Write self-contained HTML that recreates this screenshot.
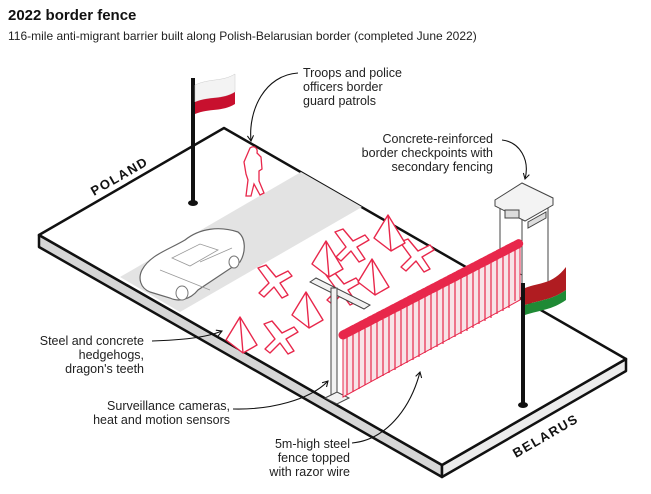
<!DOCTYPE html>
<html><head><meta charset="utf-8"><style>
body{margin:0;background:#fff;width:651px;height:489px;overflow:hidden;font-family:"Liberation Sans",sans-serif}
</style></head><body>
<svg width="651" height="489" viewBox="0 0 651 489" xmlns="http://www.w3.org/2000/svg" font-family="Liberation Sans, sans-serif">
<defs>
<marker id="ah" viewBox="0 0 10 10" refX="8" refY="5" markerWidth="7" markerHeight="7" orient="auto"><path d="M1,1 L8,5 L1,9" fill="none" stroke="#111" stroke-width="1.4"/></marker>
</defs>
<text x="8" y="20" font-size="15" font-weight="bold" fill="#111">2022 border fence</text>
<text x="8" y="40" font-size="12" fill="#222">116-mile anti-migrant barrier built along Polish-Belarusian border (completed June 2022)</text>

<!-- slab -->
<polygon points="39,235 442,465 442,477 39,247" fill="#d6d6d6" stroke="#111" stroke-width="2.5" stroke-linejoin="round"/>
<polygon points="442,465 626,359 626,371 442,477" fill="#ececec" stroke="#111" stroke-width="2.5" stroke-linejoin="round"/>
<polygon points="224,128 626,359 442,465 39,235" fill="#fff" stroke="#111" stroke-width="2.5" stroke-linejoin="round"/>
<polygon points="120,277 301,172 362,207 180,312" fill="#e3e3e3"/>

<text x="0" y="0" font-size="13" font-weight="bold" letter-spacing="1.5" fill="#111" transform="translate(94,196) rotate(-30)">POLAND</text>
<text x="0" y="0" font-size="13" font-weight="bold" letter-spacing="1.5" fill="#111" transform="translate(516,458) rotate(-30)">BELARUS</text>

<!-- Poland flag -->
<rect x="191" y="78" width="4" height="125" fill="#111"/>
<ellipse cx="193" cy="203" rx="5" ry="3" fill="#111"/>
<path d="M195,85 C210,78 222,82 235,74 L235,92 C222,100 210,96 195,102 Z" fill="#f3f3f3" stroke="#ccc" stroke-width="0.5"/>
<path d="M195,102 C210,96 222,100 235,92 L235,104 C222,112 210,108 195,114 Z" fill="#c8102e"/>

<!-- soldier -->
<path d="M250,148 c4,-3 8,0 7,5 l4,4 l1,12 l-3,2 l0,10 l5,12 l-4,2 l-6,-11 l-3,12 l-5,0 l2,-16 l-2,-6 l-2,-12 z" fill="#fff" stroke="#e8274b" stroke-width="1.3"/>

<!-- car -->
<path d="M142,270 C150,255 168,250 185,240 C200,228 220,226 238,232 C246,238 246,252 240,262 L198,290 C190,300 178,302 170,298 L150,292 C140,288 138,278 142,270 Z" fill="#fff" stroke="#666" stroke-width="1.2"/>
<path d="M172,258 L200,244 L218,250 L190,266 Z M160,270 L210,290 M200,262 L232,248" fill="none" stroke="#999" stroke-width="0.8"/>
<ellipse cx="182" cy="293" rx="6" ry="7" fill="#fff" stroke="#777"/>
<ellipse cx="234" cy="262" rx="5" ry="6" fill="#fff" stroke="#777"/>

<!-- hedgehogs & teeth -->
<g fill="#fff" stroke="#e8274b" stroke-width="1.4" stroke-linejoin="round">
<path d="M258,268 l8,-3 l10,12 l12,-6 l4,5 l-12,7 l8,12 l-6,3 l-8,-11 l-10,10 l-5,-4 l10,-10 z"/>
<path d="M264,324 l8,-3 l10,12 l12,-6 l4,5 l-12,7 l8,12 l-6,3 l-8,-11 l-10,10 l-5,-4 l10,-10 z"/>
<path d="M335,232 l8,-3 l10,12 l12,-6 l4,5 l-12,7 l8,12 l-6,3 l-8,-11 l-10,10 l-5,-4 l10,-10 z"/>
<path d="M400,242 l8,-3 l10,12 l12,-6 l4,5 l-12,7 l8,12 l-6,3 l-8,-11 l-10,10 l-5,-4 l10,-10 z"/>
<path d="M326,275 l8,-3 l10,12 l12,-6 l4,5 l-12,7 l8,12 l-6,3 l-8,-11 l-10,10 l-5,-4 l10,-10 z"/>
<path d="M226,340 l14,-23 l17,28 l-14,8 z M240,317 l3,36"/>
<path d="M292,315 l14,-23 l17,28 l-14,8 z M306,292 l3,36"/>
<path d="M374,238 l14,-23 l17,28 l-14,8 z M388,215 l3,36"/>
<path d="M358,282 l14,-23 l17,28 l-14,8 z M372,259 l3,36"/>
<path d="M312,264 l14,-23 l17,28 l-14,8 z M326,241 l3,36"/>
</g>

<!-- checkpoint tower -->
<g stroke="#444" stroke-width="1" fill="#fff">
<polygon points="500,200 500,262 522,275 522,213"/>
<polygon points="522,213 522,300 548,285 548,200"/>
<polygon points="495,200 522,183 553,198 553,205 525,221 495,206" fill="#f3f3f3"/>
<rect x="505" y="210" width="14" height="8" fill="#ddd"/>
<polygon points="528,222 546,212 546,218 528,228" fill="#ddd"/>
</g>

<!-- camera post -->
<g stroke="#444" stroke-width="1" fill="#f2f2f2">
<polygon points="310,282 316,278 370,305 364,309"/>
<rect x="331" y="288" width="6" height="110"/>
<polygon points="325,398 337,392 349,398 337,404"/>
</g>

<!-- fence -->
<polygon points="343,335 520,243 520,300 343,397" fill="#f7e3e7" stroke="#e8274b" stroke-width="1"/>
<g stroke="#e8274b" stroke-width="1.2">
<path d="M347,333 v62 M353,330 v62 M359,327 v62 M365,323 v62 M371,320 v62 M377,317 v62 M383,314 v62 M389,311 v62 M395,308 v62 M401,304 v62 M407,301 v62 M413,298 v62 M419,295 v62 M425,291 v62 M431,288 v62 M437,285 v62 M443,282 v62 M449,278 v62 M455,275 v62 M461,272 v62 M467,269 v62 M473,266 v62 M479,262 v62 M485,259 v62 M491,256 v62 M497,252 v62 M503,249 v62 M509,246 v62 M515,243 v58"/>
</g>
<path d="M343,335 L520,243" stroke="#e8274b" stroke-width="9" fill="none" stroke-dasharray="3 2" stroke-linecap="round"/>

<!-- Belarus flag -->
<rect x="521" y="283" width="4" height="122" fill="#111"/>
<ellipse cx="523" cy="405" rx="5" ry="3" fill="#111"/>
<path d="M525,288 C540,282 552,285 566,267 L566,290 C552,300 540,300 525,305 Z" fill="#b01c21"/>
<path d="M525,305 C540,300 552,300 566,290 L566,300 C552,310 540,310 525,315 Z" fill="#1f8a35"/>

<!-- labels -->
<g font-size="12.5" fill="#222">
<text x="303" y="77">Troops and police</text>
<text x="303" y="91">officers border</text>
<text x="303" y="105">guard patrols</text>
<g text-anchor="end">
<text x="493" y="143">Concrete-reinforced</text>
<text x="493" y="157">border checkpoints with</text>
<text x="493" y="171">secondary fencing</text>
<text x="144" y="345">Steel and concrete</text>
<text x="144" y="359">hedgehogs,</text>
<text x="144" y="373">dragon's teeth</text>
<text x="230" y="410">Surveillance cameras,</text>
<text x="230" y="424">heat and motion sensors</text>
<text x="350" y="448">5m-high steel</text>
<text x="350" y="462">fence topped</text>
<text x="350" y="476">with razor wire</text>
</g>
</g>
<g fill="none" stroke="#111" stroke-width="1.1" marker-end="url(#ah)">
<path d="M298,73 C265,75 248,110 251,141"/>
<path d="M502,140 C520,142 530,160 525,179"/>
<path d="M152,341 C180,340 205,338 222,331"/>
<path d="M233,409 C270,410 310,400 328,381"/>
<path d="M352,443 C385,440 410,410 420,372"/>
</g>
</svg>
</body></html>
